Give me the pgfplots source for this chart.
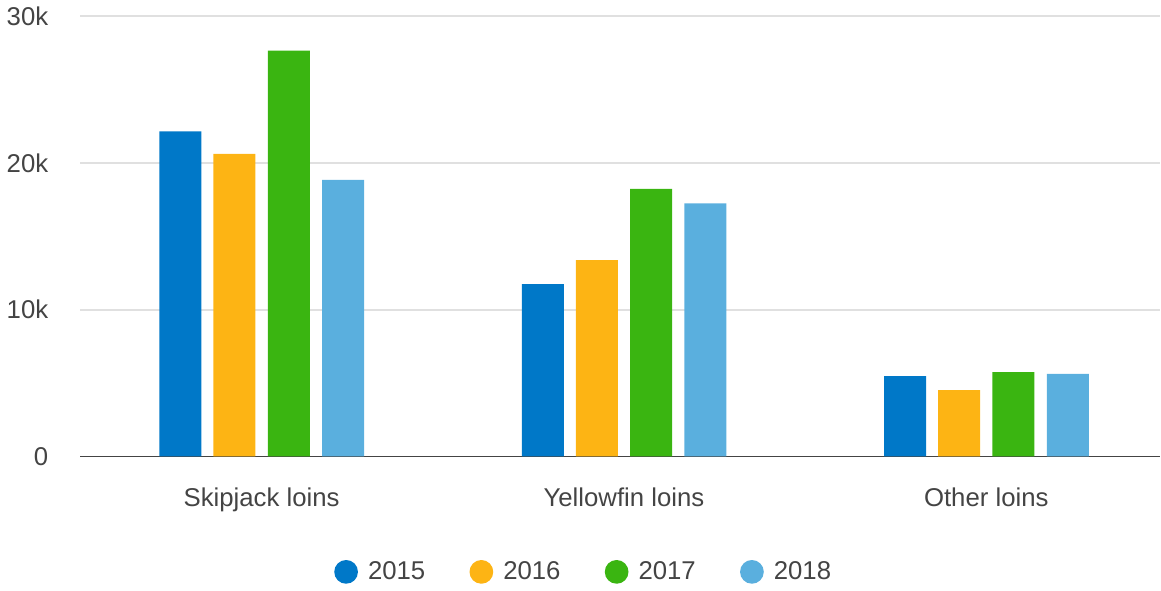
\documentclass[border=0pt]{standalone}
\usepackage{fontspec}
\setmainfont{Liberation Sans}
\usepackage{pgfplots}
\pgfplotsset{compat=1.18}
\definecolor{c15}{RGB}{0,120,200}
\definecolor{c16}{RGB}{253,180,20}
\definecolor{c17}{RGB}{58,181,17}
\definecolor{c18}{RGB}{90,175,222}
\definecolor{txt}{RGB}{68,68,68}
\definecolor{gridc}{RGB}{224,224,224}

\begin{document}
\begin{tikzpicture}
\begin{axis}[
  scale only axis,
  width=537pt, height=219pt,
  ybar, bar width=0.116,
  xmin=-0.5, xmax=2.48,
  ymin=0, ymax=30000,
  scaled y ticks=false,
  xtick={0,1,2},
  xticklabels={Skipjack loins, Yellowfin loins, Other loins},
  ytick={0,10000,20000,30000},
  yticklabels={0,10k,20k,30k},
  ymajorgrids, grid style={gridc, line width=0.8pt},
  axis x line*=bottom, axis y line*=left,
  x axis line style={draw=txt, line width=0.8pt, -},
  y axis line style={draw=none},
  major tick length=0pt,
  tick label style={font=\fontsize{12.8}{15}\selectfont, text=txt},
  /pgf/number format/assume math mode=true,
  xticklabel style={yshift=-12pt},
  yticklabel style={xshift=-12.5pt},
  legend style={draw=none, at={(0.467,-0.262)}, anchor=center,
    legend columns=4, font=\fontsize{12.8}{15}\selectfont, text=txt,
    /tikz/every even column/.append style={column sep=20pt},
    /tikz/every odd column/.append style={column sep=3pt}},
  legend image code/.code={\fill[#1] (0.2em,0pt) circle (5.9pt);},
]
\addplot[fill=c15, draw=none, bar shift=-0.224] coordinates {(0,22150) (1,11750) (2,5480)};
\addplot[fill=c16, draw=none, bar shift=-0.075] coordinates {(0,20620) (1,13380) (2,4520)};
\addplot[fill=c17, draw=none, bar shift=0.075] coordinates {(0,27650) (1,18230) (2,5740)};
\addplot[fill=c18, draw=none, bar shift=0.225] coordinates {(0,18850) (1,17250) (2,5630)};
\legend{2015,2016,2017,2018}
\end{axis}
\end{tikzpicture}
\end{document}
